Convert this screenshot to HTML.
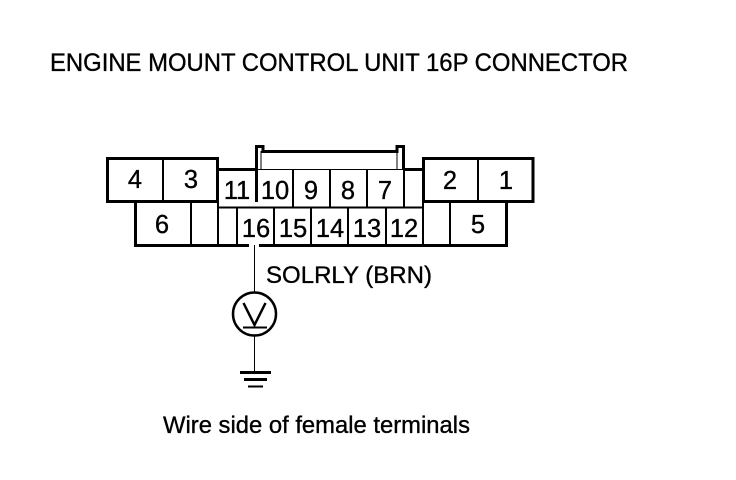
<!DOCTYPE html>
<html><head><meta charset="utf-8"><style>
html,body{margin:0;padding:0;background:#fff}
svg{display:block}
text{font-family:"Liberation Sans",sans-serif;fill:#000;stroke:#000;stroke-width:.35px}
</style></head><body>
<svg width="736" height="480" viewBox="0 0 736 480" xmlns="http://www.w3.org/2000/svg">
<rect width="736" height="480" fill="#fff"/>
<text x="50" y="71" font-size="25" textLength="578" lengthAdjust="spacingAndGlyphs">ENGINE MOUNT CONTROL UNIT 16P CONNECTOR</text>
<g fill="none" stroke="#000" stroke-width="3" shape-rendering="crispEdges">
<path d="M218 169.500H256M404 169.500H423"/>
<rect x="107.500" y="158.500" width="110" height="43"/>
<rect x="423.500" y="158.500" width="109.500" height="43"/>
<path d="M135.500 201V245.500H249M259 245.500H506.500V201"/>
<path d="M256.500 169V146.500H263V151.500H397V146.500H403.500V169"/>
<path d="M256.500 169V202"/>
<path d="M218 207.500H423" stroke-width="2"/>
</g>
<g stroke="#000" stroke-width="2" fill="none" shape-rendering="crispEdges">
<path d="M163 158V201M478 158V201M218 169V207M423 169V207"/>
<path d="M256 169.500H404" stroke-width="1"/>
<path d="M293 169V207M330 169V207M367 169V207M404 169V207"/>
<path d="M191 201V245M218 207V245M237 207V245M274 207V245M311 207V245M348 207V245M386 207V245M423 207V245M450 201V245"/>
<path d="M261 151V169M397 151V169" stroke-width="1"/>
</g>
<path d="M254.500 245V292M254.500 336V372" stroke="#000" stroke-width="1" fill="none" shape-rendering="crispEdges"/>
<circle cx="254.500" cy="314" r="21.500" fill="none" stroke="#000" stroke-width="2.500"/>
<path d="M243.500 303L254.500 325L265.500 303" fill="none" stroke="#000" stroke-width="2.500"/>
<g stroke="#000" shape-rendering="crispEdges">
<path d="M243 327.500H267" stroke-width="2"/>
<path d="M240 372.500H271" stroke-width="3"/>
<path d="M244 379.500H267" stroke-width="3"/>
<path d="M248 386.500H263" stroke-width="2"/>
</g>
<g font-size="25.500" text-anchor="middle">
<text x="135" y="188">4</text>
<text x="191" y="188">3</text>
<text x="450" y="189">2</text>
<text x="506" y="189">1</text>
<text x="162" y="233">6</text>
<text x="478" y="233">5</text>
<text x="237" y="199">11</text>
<text x="275" y="199">10</text>
<text x="311" y="199">9</text>
<text x="348" y="199">8</text>
<text x="385" y="199">7</text>
<text x="256" y="237">16</text>
<text x="293" y="237">15</text>
<text x="330" y="237">14</text>
<text x="367" y="237">13</text>
<text x="404" y="237">12</text>
</g>
<text x="266" y="283" font-size="24.500" textLength="166" lengthAdjust="spacingAndGlyphs">SOLRLY (BRN)</text>
<text x="163" y="433" font-size="24.500" textLength="307" lengthAdjust="spacingAndGlyphs">Wire side of female terminals</text>
</svg>
</body></html>
